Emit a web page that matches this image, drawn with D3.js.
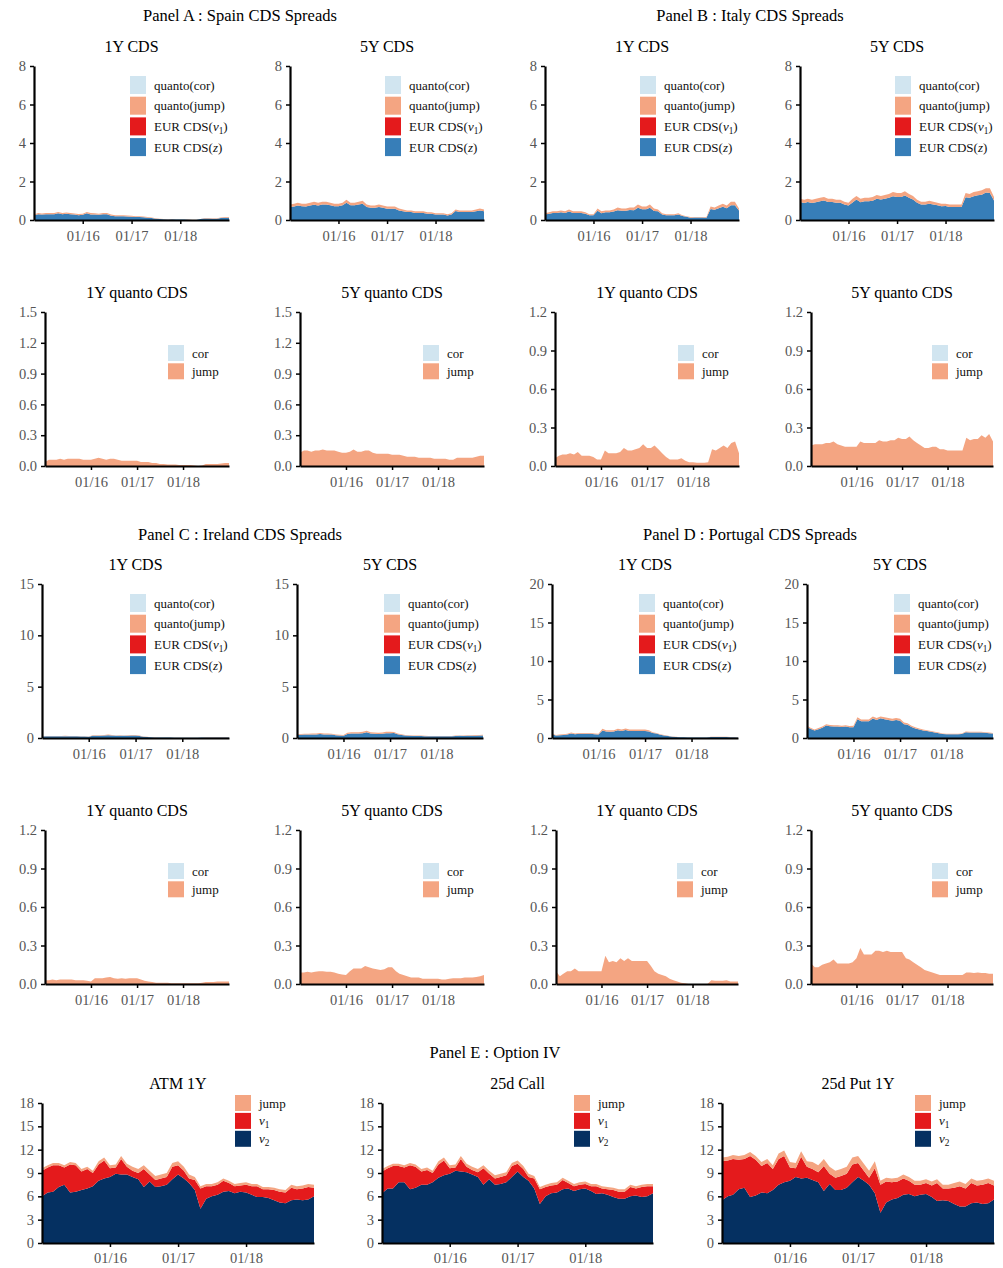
<!DOCTYPE html>
<html>
<head>
<meta charset="utf-8">
<script src="https://cdn.jsdelivr.net/npm/d3@7"></script>
<style>
  body { margin: 0; background: #fff; }
  svg, svg text { font-family: "Liberation Serif", "DejaVu Serif", serif; }
  .tick text { fill: #555; font-size: 14.5px; font-family: "Liberation Serif", "DejaVu Serif", serif; }
  .tick line { stroke: #000; stroke-width: 1.5px; }
  .domain { stroke: #000; stroke-width: 2.2px; }
</style>
</head>
<body>
<svg id="fig" width="1003" height="1268"></svg>
<script>
// monthly observations, Jan 2015 .. Jan 2019
const dates = d3.range(49).map(i => new Date(2015, i, 1));
const xTickDates = [new Date(2016, 0, 1), new Date(2017, 0, 1), new Date(2018, 0, 1)];

const nil = [0,0,0,0,0,0,0,0,0,0, 0,0,0,0,0,0,0,0,0,0, 0,0,0,0,0,0,0,0,0,0, 0,0,0,0,0,0,0,0,0,0, 0,0,0,0,0,0,0,0,0];

// Spain
const esZ1 = [0.25,0.3,0.28,0.3,0.3,0.3,0.35,0.3,0.32,0.3, 0.28,0.25,0.27,0.35,0.28,0.28,0.27,0.3,0.3,0.22, 0.2,0.2,0.2,0.18,0.17,0.15,0.15,0.14,0.12,0.1, 0.07,0.05,0.04,0.03,0.04,0.02,0.02,0.02,0.01,0.0, 0.0,0.05,0.08,0.08,0.07,0.07,0.1,0.12,0.12];
const esJ1 = [0.04,0.06,0.06,0.06,0.07,0.06,0.07,0.07,0.07,0.07, 0.06,0.06,0.06,0.07,0.08,0.07,0.06,0.07,0.07,0.06, 0.05,0.05,0.05,0.05,0.05,0.04,0.04,0.04,0.03,0.03, 0.02,0.02,0.015,0.015,0.015,0.01,0.01,0.01,0.01,0.005, 0.0,0.005,0.02,0.02,0.02,0.02,0.025,0.03,0.03];
const esZ5 = [0.67,0.70,0.75,0.71,0.70,0.75,0.79,0.75,0.80,0.80, 0.76,0.72,0.72,0.76,0.89,0.76,0.76,0.80,0.85,0.67, 0.63,0.63,0.68,0.63,0.59,0.59,0.59,0.50,0.46,0.41, 0.41,0.37,0.37,0.37,0.32,0.33,0.28,0.28,0.28,0.24, 0.29,0.47,0.42,0.42,0.42,0.42,0.46,0.50,0.45];
const esJ5 = [0.13,0.15,0.15,0.14,0.15,0.15,0.16,0.15,0.15,0.15, 0.14,0.13,0.13,0.14,0.16,0.14,0.14,0.15,0.15,0.13, 0.12,0.12,0.12,0.12,0.11,0.11,0.11,0.10,0.09,0.09, 0.09,0.08,0.08,0.08,0.08,0.07,0.07,0.07,0.07,0.06, 0.06,0.08,0.08,0.08,0.08,0.08,0.09,0.1,0.1];

// Italy
const itZ1 = [0.29,0.32,0.36,0.36,0.40,0.36,0.44,0.37,0.37,0.37, 0.33,0.25,0.25,0.48,0.35,0.40,0.40,0.44,0.51,0.48, 0.48,0.52,0.51,0.63,0.56,0.56,0.64,0.47,0.45,0.28, 0.25,0.25,0.25,0.29,0.21,0.17,0.12,0.13,0.13,0.13, 0.12,0.57,0.53,0.61,0.69,0.61,0.77,0.76,0.5];
const itJ1 = [0.06,0.08,0.09,0.09,0.1,0.09,0.11,0.08,0.08,0.08, 0.07,0.05,0.05,0.12,0.1,0.1,0.1,0.11,0.14,0.12, 0.12,0.13,0.14,0.17,0.14,0.14,0.16,0.13,0.1,0.07, 0.05,0.05,0.05,0.06,0.04,0.03,0.03,0.025,0.025,0.025, 0.03,0.13,0.12,0.14,0.16,0.14,0.18,0.19,0.1];
const itZ5 = [0.94,0.88,0.93,0.88,0.92,0.97,1.01,0.93,0.94,0.90, 0.90,0.80,0.75,0.91,1.07,0.92,0.97,0.97,1.0,1.11, 1.06,1.1,1.15,1.23,1.19,1.19,1.27,1.15,1.07,0.89, 0.81,0.81,0.85,0.80,0.77,0.72,0.73,0.68,0.68,0.68, 0.68,1.18,1.15,1.24,1.29,1.31,1.43,1.4,1.01];
const itJ5 = [0.16,0.17,0.17,0.17,0.18,0.18,0.19,0.17,0.16,0.15, 0.15,0.15,0.15,0.19,0.18,0.18,0.18,0.18,0.2,0.19, 0.19,0.2,0.2,0.22,0.21,0.21,0.23,0.2,0.18,0.16, 0.14,0.14,0.15,0.15,0.13,0.13,0.12,0.12,0.12,0.12, 0.12,0.22,0.2,0.21,0.21,0.24,0.22,0.25,0.19];

// Ireland
const ieZ1 = [0.15,0.16,0.17,0.16,0.17,0.17,0.18,0.17,0.16,0.16, 0.15,0.14,0.13,0.22,0.23,0.23,0.25,0.28,0.24,0.21, 0.22,0.21,0.23,0.24,0.25,0.2,0.13,0.09,0.07,0.06, 0.05,0.05,0.05,0.04,0.03,0.03,0.03,0.03,0.03,0.03, 0.03,0.04,0.05,0.05,0.05,0.05,0.06,0.06,0.06];
const ieJ1 = [0.03,0.03,0.035,0.03,0.035,0.035,0.035,0.035,0.03,0.03, 0.03,0.025,0.02,0.045,0.045,0.045,0.05,0.055,0.045,0.04, 0.045,0.04,0.045,0.045,0.045,0.035,0.025,0.02,0.015,0.01, 0.01,0.01,0.01,0.005,0.005,0.005,0.005,0.005,0.005,0.005, 0.005,0.01,0.015,0.015,0.015,0.02,0.02,0.02,0.02];
const ieZ5 = [0.31,0.31,0.33,0.33,0.35,0.35,0.38,0.35,0.35,0.33, 0.27,0.25,0.23,0.40,0.43,0.43,0.44,0.46,0.57,0.43, 0.41,0.39,0.41,0.47,0.47,0.48,0.37,0.29,0.24,0.22, 0.20,0.20,0.20,0.18,0.16,0.16,0.16,0.16,0.16,0.16, 0.16,0.20,0.21,0.20,0.21,0.23,0.23,0.24,0.25];
const ieJ5 = [0.09,0.09,0.095,0.09,0.095,0.1,0.1,0.095,0.095,0.09, 0.08,0.075,0.07,0.1,0.12,0.12,0.12,0.14,0.13,0.12, 0.115,0.11,0.115,0.13,0.13,0.1,0.08,0.07,0.06,0.05, 0.05,0.05,0.04,0.04,0.04,0.04,0.04,0.035,0.035,0.04, 0.045,0.045,0.045,0.05,0.05,0.05,0.055,0.06,0.07];

// Portugal
const ptZ1 = [0.5,0.34,0.37,0.4,0.45,0.58,0.5,0.55,0.55,0.55, 0.55,0.5,0.45,0.98,0.83,0.82,0.83,1.0,0.92,1.05, 0.92,0.92,0.92,0.92,0.92,0.86,0.65,0.57,0.43,0.34, 0.26,0.17,0.13,0.09,0.1,0.05,0.05,0.05,0.05,0.05, 0.05,0.12,0.13,0.13,0.13,0.12,0.1,0.1,0.08];
const ptJ1 = [0.1,0.06,0.08,0.1,0.1,0.12,0.1,0.1,0.1,0.1, 0.1,0.1,0.1,0.22,0.17,0.18,0.17,0.2,0.18,0.2, 0.18,0.18,0.18,0.18,0.18,0.14,0.1,0.08,0.07,0.06, 0.04,0.03,0.02,0.01,0.005,0,0,0,0,0, 0,0.03,0.025,0.025,0.025,0.03,0.02,0.02,0.02];
const ptZ5 = [1.44,1.17,0.97,1.15,1.34,1.63,1.51,1.49,1.49,1.44, 1.49,1.38,1.4,2.42,2.17,2.17,2.17,2.54,2.34,2.55, 2.44,2.35,2.25,2.35,2.25,1.8,1.71,1.43,1.25,1.12, 0.99,0.9,0.81,0.72,0.63,0.53,0.48,0.48,0.48,0.48, 0.53,0.76,0.71,0.72,0.71,0.72,0.67,0.62,0.57];
const ptJ5 = [0.16,0.13,0.13,0.15,0.16,0.17,0.19,0.16,0.16,0.16, 0.16,0.17,0.2,0.28,0.23,0.23,0.23,0.26,0.26,0.25, 0.26,0.25,0.25,0.25,0.25,0.2,0.19,0.17,0.15,0.13, 0.11,0.1,0.09,0.08,0.07,0.07,0.07,0.07,0.07,0.07, 0.07,0.09,0.09,0.085,0.09,0.085,0.085,0.08,0.08];

// Option IV
const atmV2 = [6.0,6.5,6.6,7.2,7.5,6.5,6.6,6.8,7.0,7.3, 8.0,8.3,8.5,8.9,8.8,8.8,8.5,8.2,7.2,7.9, 7.2,7.3,7.5,8.2,8.8,8.3,7.7,6.8,4.4,5.7, 6.0,6.2,6.6,6.7,6.4,6.6,6.5,6.2,5.9,5.9, 5.8,5.5,5.2,5.1,5.5,5.6,5.5,5.6,6.0];
const atmV1 = [3.3,3.2,3.4,2.8,2.2,3.6,3.4,2.4,2.5,1.7, 2.1,2.3,1.1,0.8,2.0,1.0,0.8,0.8,2.3,0.9, 0.9,1.0,1.0,1.6,1.2,1.0,0.6,1.3,2.6,1.6, 1.3,1.3,1.4,1.0,0.9,0.8,1.0,1.1,1.4,1.0, 1.1,1.3,1.4,1.4,1.6,1.3,1.5,1.6,1.1];
const atmJump = [0.3,0.3,0.3,0.3,0.3,0.3,0.3,0.3,0.3,0.3, 0.4,0.4,0.4,0.4,0.4,0.4,0.5,0.5,0.5,0.5, 0.5,0.5,0.5,0.5,0.5,0.5,0.5,0.4,0.3,0.3, 0.3,0.3,0.3,0.3,0.3,0.3,0.3,0.3,0.3,0.3, 0.3,0.3,0.3,0.3,0.4,0.4,0.4,0.4,0.4];
const callV2 = [6.4,7.0,7.0,7.8,7.8,6.9,7.1,7.5,7.5,7.8, 8.4,8.7,8.9,9.3,9.2,9.1,8.8,8.5,7.5,8.2, 7.5,7.6,7.8,8.5,9.2,8.5,8.0,7.0,5.0,6.0, 6.4,6.5,6.9,7.0,6.7,6.9,7.0,6.7,6.3,6.4, 6.2,5.9,5.7,5.7,6.0,6.1,5.9,6.0,6.4];
const callV1 = [2.8,2.6,2.9,2.1,1.9,3.1,2.7,1.7,1.9,1.2, 1.7,1.9,0.7,0.4,1.6,0.7,0.6,0.6,2.1,0.7, 0.8,0.9,0.9,1.4,1.0,1.0,0.5,1.3,1.9,1.2, 1.0,1.0,1.2,0.7,0.6,0.6,0.6,0.6,1.0,0.6, 0.7,0.9,0.9,0.9,1.2,0.9,1.3,1.3,0.9];
const callJump = [0.3,0.3,0.3,0.3,0.3,0.3,0.3,0.3,0.3,0.3, 0.4,0.4,0.4,0.4,0.4,0.4,0.4,0.4,0.4,0.4, 0.4,0.4,0.4,0.4,0.4,0.4,0.4,0.3,0.3,0.3, 0.3,0.3,0.3,0.3,0.3,0.3,0.3,0.3,0.3,0.3, 0.3,0.3,0.3,0.3,0.3,0.3,0.3,0.3,0.3];
const putV2 = [5.5,6.0,6.2,6.9,7.1,5.9,6.1,6.5,6.4,6.8, 7.5,7.8,8.0,8.5,8.3,8.4,8.1,7.8,6.7,7.6, 6.8,6.8,7.1,7.8,8.5,8.0,7.5,6.4,3.9,5.2, 5.6,5.8,6.2,6.3,6.0,6.2,6.3,5.9,5.4,5.5, 5.4,5.0,4.7,4.7,5.1,5.2,5.0,5.1,5.6];
const putV1 = [5.0,4.6,4.6,3.8,3.7,5.3,4.6,3.4,3.9,2.7, 3.3,3.4,1.7,1.1,2.8,1.4,1.4,1.3,3.2,1.3, 1.6,1.8,1.8,2.3,1.8,1.3,0.9,3.2,3.6,2.7, 2.2,2.1,2.1,1.7,1.5,1.3,1.4,1.5,2.3,1.5, 1.6,2.1,2.6,2.3,2.6,2.2,2.5,2.6,1.8];
const putJump = [0.5,0.5,0.5,0.5,0.5,0.5,0.5,0.5,0.5,0.5, 0.7,0.7,0.7,0.7,0.7,0.7,0.9,0.9,0.9,0.9, 0.9,0.9,0.9,0.9,0.9,0.9,0.9,0.9,0.5,0.5, 0.5,0.5,0.5,0.5,0.5,0.5,0.5,0.5,0.5,0.5, 0.5,0.6,0.6,0.6,0.6,0.6,0.6,0.6,0.6];

const ticks8 = [0, 2, 4, 6, 8];
const ticks15 = [0, 5, 10, 15];
const ticks20 = [0, 5, 10, 15, 20];
const ticksQ15 = [0, 0.3, 0.6, 0.9, 1.2, 1.5];
const ticksQ12 = [0, 0.3, 0.6, 0.9, 1.2];
const ticks18 = [0, 3, 6, 9, 12, 15, 18];

const colors = { z: '#377eb8', v1: '#e41a1c', jump: '#f4a582', cor: '#d1e5f0', v2: '#053061' };

const cdsLegend = [
    { key: 'cor', label: [['quanto(cor)']] },
    { key: 'jump', label: [['quanto(jump)']] },
    { key: 'v1', label: [['EUR CDS('], ['v', 'i'], ['1', 'sub'], [')']] },
    { key: 'z', label: [['EUR CDS('], ['z', 'i'], [')']] },
];
const quantoLegend = [
    { key: 'cor', label: [['cor']] },
    { key: 'jump', label: [['jump']] },
];
const optionLegend = [
    { key: 'jump', label: [['jump']] },
    { key: 'v1', label: [['v', 'i'], ['1', 'sub']] },
    { key: 'v2', label: [['v', 'i'], ['2', 'sub']] },
];

const svg = d3.select('#fig');

function richText(sel, segs) {
    let shifted = false;
    segs.forEach(([t, s]) => {
        const ts = sel.append('tspan').text(t);
        if (s === 'i') ts.attr('font-style', 'italic');
        if (s === 'sub') {
            ts.attr('font-size', '0.72em').attr('dy', 3);
            shifted = true;
        } else if (shifted) {
            ts.attr('dy', -3);
            shifted = false;
        }
    });
}

function drawChart(c) {
    const x = d3.scaleTime().domain(d3.extent(dates)).range([c.left, c.right]);
    const y = d3.scaleLinear().domain([0, c.yMax]).range([c.bottom, c.top]);
    const g = svg.append('g');

    const rows = dates.map((d, i) => {
        const r = { date: d };
        c.layers.forEach(l => (r[l.key] = l.values[i]));
        return r;
    });
    const series = d3.stack().keys(c.layers.map(l => l.key))(rows);
    const area = d3.area()
        .x(d => x(d.data.date))
        .y0(d => y(d[0]))
        .y1(d => y(d[1]));

    g.selectAll('path.layer')
        .data(series)
        .join('path')
        .attr('class', 'layer')
        .attr('fill', d => colors[d.key])
        .attr('d', area);

    g.append('g')
        .attr('transform', `translate(0,${c.bottom})`)
        .call(d3.axisBottom(x).tickValues(xTickDates).tickFormat(d3.timeFormat('%m/%y')).tickSize(4).tickSizeOuter(0).tickPadding(c.xPad || 7))
        .attr('font-family', null);

    g.append('g')
        .attr('transform', `translate(${c.left},0)`)
        .call(d3.axisLeft(y).tickValues(c.yTicks).tickFormat(d3.format(c.yFmt)).tickSize(4).tickSizeOuter(0).tickPadding(4))
        .attr('font-family', null);

    g.append('text')
        .attr('x', (c.left + c.right) / 2)
        .attr('y', c.top - 14)
        .attr('text-anchor', 'middle')
        .attr('font-size', 16)
        .text(c.title);

    const lg = g.append('g').attr('transform', `translate(${c.right - c.legend.dx},${c.top + c.legend.dy})`);
    c.legend.items.forEach((it, i) => {
        const yy = i * c.legend.step;
        lg.append('rect')
            .attr('x', 0)
            .attr('y', yy)
            .attr('width', 16)
            .attr('height', c.legend.h)
            .attr('fill', colors[it.key]);
        const t = lg.append('text')
            .attr('x', 24)
            .attr('y', yy + c.legend.h / 2 + 4.5)
            .attr('font-size', 13)
            .attr('fill', '#111');
        richText(t, it.label);
    });
}

const legCds = { items: cdsLegend, dx: 99, dy: 10, h: 18, step: 20.7 };
const legQ = { items: quantoLegend, dx: 61, dy: 33, h: 16, step: 18.3 };
const legOpt = { items: optionLegend, dx: 79, dy: -8, h: 16, step: 17.9 };

function cdsLayers(z, j) {
    return [
        { key: 'z', values: z },
        { key: 'v1', values: nil },
        { key: 'jump', values: j },
        { key: 'cor', values: nil },
    ];
}
function quantoLayers(j) {
    return [
        { key: 'jump', values: j },
        { key: 'cor', values: nil },
    ];
}

const charts = [
    // Panel A / B CDS
    { left: 34, right: 229, top: 66, bottom: 220, title: '1Y CDS', yMax: 8, yTicks: ticks8, yFmt: 'd', layers: cdsLayers(esZ1, esJ1), legend: legCds },
    { left: 290, right: 484, top: 66, bottom: 220, title: '5Y CDS', yMax: 8, yTicks: ticks8, yFmt: 'd', layers: cdsLayers(esZ5, esJ5), legend: legCds },
    { left: 545, right: 739, top: 66, bottom: 220, title: '1Y CDS', yMax: 8, yTicks: ticks8, yFmt: 'd', layers: cdsLayers(itZ1, itJ1), legend: legCds },
    { left: 800, right: 994, top: 66, bottom: 220, title: '5Y CDS', yMax: 8, yTicks: ticks8, yFmt: 'd', layers: cdsLayers(itZ5, itJ5), legend: legCds },
    // quanto A / B
    { left: 45, right: 229, top: 312, bottom: 466, title: '1Y quanto CDS', yMax: 1.5, yTicks: ticksQ15, yFmt: '.1f', layers: quantoLayers(esJ1), legend: legQ },
    { left: 300, right: 484, top: 312, bottom: 466, title: '5Y quanto CDS', yMax: 1.5, yTicks: ticksQ15, yFmt: '.1f', layers: quantoLayers(esJ5), legend: legQ },
    { left: 555, right: 739, top: 312, bottom: 466, title: '1Y quanto CDS', yMax: 1.2, yTicks: ticksQ12, yFmt: '.1f', layers: quantoLayers(itJ1), legend: legQ },
    { left: 811, right: 993, top: 312, bottom: 466, title: '5Y quanto CDS', yMax: 1.2, yTicks: ticksQ12, yFmt: '.1f', layers: quantoLayers(itJ5), legend: legQ },
    // Panel C / D CDS
    { left: 42, right: 229, top: 584, bottom: 738, title: '1Y CDS', yMax: 15, yTicks: ticks15, yFmt: 'd', layers: cdsLayers(ieZ1, ieJ1), legend: legCds },
    { left: 297, right: 483, top: 584, bottom: 738, title: '5Y CDS', yMax: 15, yTicks: ticks15, yFmt: 'd', layers: cdsLayers(ieZ5, ieJ5), legend: legCds },
    { left: 552, right: 738, top: 584, bottom: 738, title: '1Y CDS', yMax: 20, yTicks: ticks20, yFmt: 'd', layers: cdsLayers(ptZ1, ptJ1), legend: legCds },
    { left: 807, right: 993, top: 584, bottom: 738, title: '5Y CDS', yMax: 20, yTicks: ticks20, yFmt: 'd', layers: cdsLayers(ptZ5, ptJ5), legend: legCds },
    // quanto C / D
    { left: 45, right: 229, top: 830, bottom: 984, title: '1Y quanto CDS', yMax: 1.2, yTicks: ticksQ12, yFmt: '.1f', layers: quantoLayers(ieJ1), legend: legQ },
    { left: 300, right: 484, top: 830, bottom: 984, title: '5Y quanto CDS', yMax: 1.2, yTicks: ticksQ12, yFmt: '.1f', layers: quantoLayers(ieJ5), legend: legQ },
    { left: 556, right: 738, top: 830, bottom: 984, title: '1Y quanto CDS', yMax: 1.2, yTicks: ticksQ12, yFmt: '.1f', layers: quantoLayers(ptJ1), legend: legQ },
    { left: 811, right: 993, top: 830, bottom: 984, title: '5Y quanto CDS', yMax: 1.2, yTicks: ticksQ12, yFmt: '.1f', layers: quantoLayers(ptJ5), legend: legQ },
    // Panel E option IV
    { left: 42, right: 314, top: 1103, bottom: 1243, title: 'ATM 1Y', yMax: 18, yTicks: ticks18, yFmt: 'd', xPad: 6,
      layers: [{ key: 'v2', values: atmV2 }, { key: 'v1', values: atmV1 }, { key: 'jump', values: atmJump }], legend: legOpt },
    { left: 382, right: 653, top: 1103, bottom: 1243, title: '25d Call', yMax: 18, yTicks: ticks18, yFmt: 'd', xPad: 6,
      layers: [{ key: 'v2', values: callV2 }, { key: 'v1', values: callV1 }, { key: 'jump', values: callJump }], legend: legOpt },
    { left: 722, right: 994, top: 1103, bottom: 1243, title: '25d Put 1Y', yMax: 18, yTicks: ticks18, yFmt: 'd', xPad: 6,
      layers: [{ key: 'v2', values: putV2 }, { key: 'v1', values: putV1 }, { key: 'jump', values: putJump }], legend: legOpt },
];

charts.forEach(drawChart);

const panelTitles = [
    { x: 240, y: 21, text: 'Panel A : Spain CDS Spreads' },
    { x: 750, y: 21, text: 'Panel B : Italy CDS Spreads' },
    { x: 240, y: 540, text: 'Panel C : Ireland CDS Spreads' },
    { x: 750, y: 540, text: 'Panel D : Portugal CDS Spreads' },
    { x: 495, y: 1058, text: 'Panel E : Option IV' },
];
svg.selectAll('text.panel')
    .data(panelTitles)
    .join('text')
    .attr('class', 'panel')
    .attr('x', d => d.x)
    .attr('y', d => d.y)
    .attr('text-anchor', 'middle')
    .attr('font-size', 16.5)
    .text(d => d.text);
</script>
</body>
</html>
